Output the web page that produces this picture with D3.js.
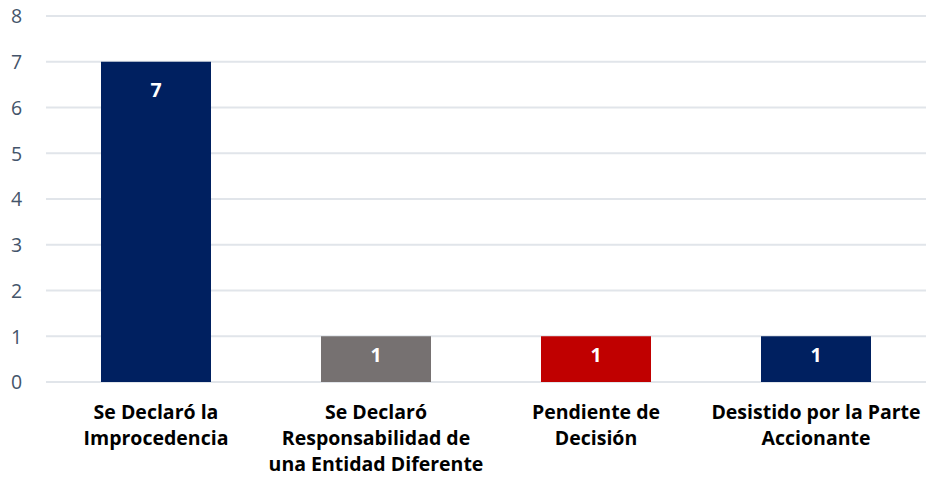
<!DOCTYPE html>
<html lang="es">
<head>
<meta charset="utf-8">
<title>Resultados</title>
<script src="https://cdn.jsdelivr.net/npm/d3@7"></script>
<style>
  body { margin: 0; background: #fff; }
  .grid line { stroke: #e1e5ea; stroke-width: 2; }
  .axis text { fill: #44546a; font-family: "Open Sans", sans-serif; font-size: 19.5px; }
  .cat { font-family: "Open Sans", sans-serif; font-size: 19.5px; font-weight: bold; fill: #000; }
  .lbl { font-family: "Open Sans", sans-serif; font-size: 19.5px; font-weight: bold; fill: #fff; }
</style>
</head>
<body>
<script>
// categories, values and colours
var categories = [
  ["Se Declaró la", "Improcedencia"],
  ["Se Declaró", "Responsabilidad de", "una Entidad Diferente"],
  ["Pendiente de", "Decisión"],
  ["Desistido por la Parte", "Accionante"]
];
var values = [7, 1, 1, 1];
var colors = ["#002060", "#767171", "#c00000", "#002060"];
var yTicks = [0, 1, 2, 3, 4, 5, 6, 7, 8];

var w = 926, h = 483;
var padLeft = 46, padRight = 926, padTop = 16, padBottom = 382;

var svg = d3.select("body").append("svg")
  .attr("width", w).attr("height", h);

var xScale = d3.scaleBand()
  .domain(d3.range(values.length))
  .range([padLeft, padRight])
  .paddingInner(0.5)
  .paddingOuter(0.25);

var yScale = d3.scaleLinear()
  .domain([0, 8])
  .range([padBottom, padTop]);

// gridlines
svg.append("g")
  .attr("class", "grid")
  .selectAll("line")
  .data(yTicks)
  .enter().append("line")
  .attr("x1", padLeft).attr("x2", padRight)
  .attr("y1", function(d){ return yScale(d); })
  .attr("y2", function(d){ return yScale(d); });

// y axis labels
var yAxis = d3.axisLeft(yScale).tickValues(yTicks).tickSize(0).tickPadding(0);
var ya = svg.append("g")
  .attr("class", "axis")
  .attr("transform", "translate(11,0)")
  .call(yAxis);
ya.select(".domain").remove();
ya.selectAll("text").attr("text-anchor", "start").attr("x", 0).attr("dy", "0.35em");

// bars
svg.selectAll("rect.bar")
  .data(values)
  .enter().append("rect")
  .attr("class", "bar")
  .attr("x", function(d, i){ return xScale(i); })
  .attr("width", xScale.bandwidth())
  .attr("y", function(d){ return yScale(d); })
  .attr("height", function(d){ return yScale(0) - yScale(d); })
  .attr("fill", function(d, i){ return colors[i]; });

// value labels
svg.selectAll("text.lbl")
  .data(values)
  .enter().append("text")
  .attr("class", "lbl")
  .attr("text-anchor", "middle")
  .attr("x", function(d, i){ return xScale(i) + xScale.bandwidth() / 2; })
  .attr("y", function(d){
    var hh = yScale(0) - yScale(d);
    return yScale(d) + Math.min(35, hh / 2 + 3);
  })
  .text(function(d){ return d; });

// category labels
categories.forEach(function(lines, i){
  var cx = xScale(i) + xScale.bandwidth() / 2;
  var t = svg.append("text")
    .attr("class", "cat")
    .attr("text-anchor", "middle")
    .attr("x", cx)
    .attr("y", 419);
  lines.forEach(function(s, j){
    t.append("tspan")
      .attr("x", cx)
      .attr("dy", j === 0 ? 0 : 26)
      .text(s);
  });
});
</script>
</body>
</html>
